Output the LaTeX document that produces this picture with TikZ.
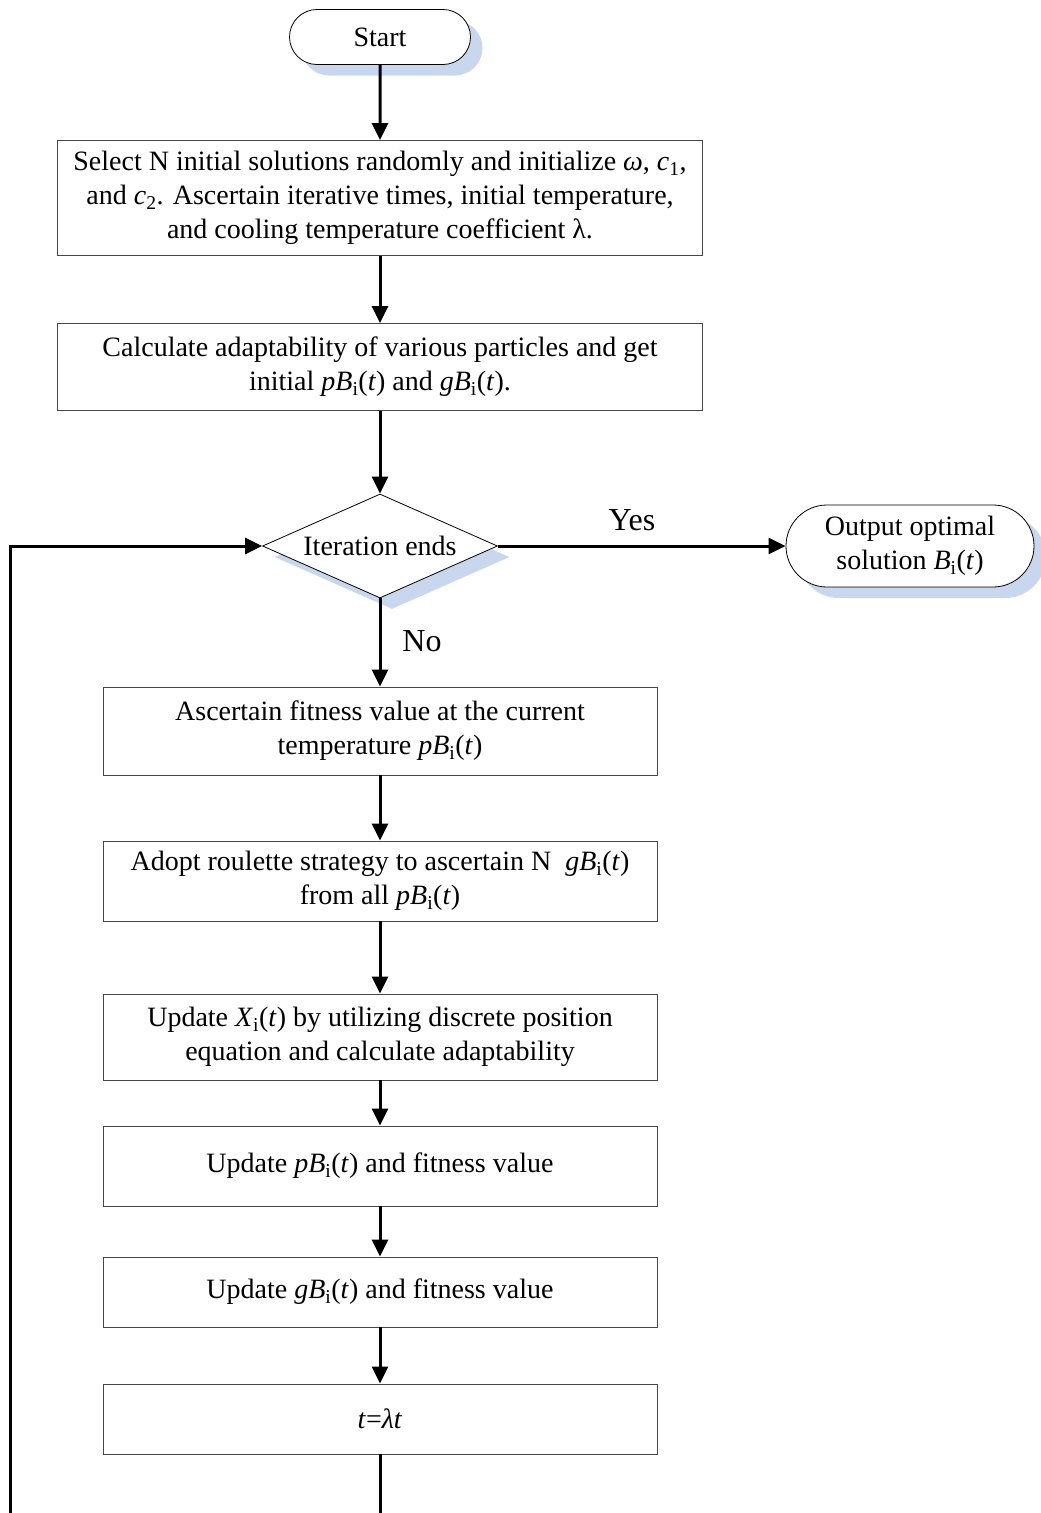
\documentclass[tikz,border=0pt]{standalone}
\usepackage{fontspec}
\setmainfont{Liberation Serif}
\usetikzlibrary{arrows.meta, shapes.geometric, shapes.misc, shadows}

\definecolor{shadowblue}{RGB}{200,214,238}
\definecolor{framegray}{RGB}{70,70,70}

\newcommand{\pB}{\textit{pB}\textsubscript{i}(\textit{t})}
\newcommand{\gB}{\textit{gB}\textsubscript{i}(\textit{t})}

\tikzset{
  box/.style={draw=framegray, line width=0.8pt, fill=white, align=center,
    minimum width=554pt, inner sep=0pt},
  widebox/.style={box, minimum width=645pt},
  term/.style={rounded rectangle, draw=black, line width=0.8pt, fill=white,
    align=center, inner sep=0pt,
    drop shadow={shadow xshift=12pt, shadow yshift=-11pt, fill=shadowblue, opacity=1}},
  decision/.style={diamond, draw=black, line width=0.8pt, fill=white, aspect=2.26,
    inner sep=0pt, minimum width=235pt, minimum height=104pt,
    drop shadow={shadow xshift=12pt, shadow yshift=-11pt, fill=shadowblue, opacity=1}},
  flow/.style={line width=3pt, -{Triangle[length=17pt, width=16pt]}},
  plain/.style={line width=3pt},
  answer/.style={font=\fontsize{32}{36}\selectfont}
}

\begin{document}
\begin{tikzpicture}[x=1pt, y=-1pt, font=\fontsize{28}{34}\selectfont]
                \useasboundingbox (0,0) rectangle (1041,1513);

                % Terminals and decision:
                \node[term, minimum width=181pt, minimum height=55pt] (start) at (380,37) {Start};
                \node[decision] (iter) at (380,546) {Iteration ends};
                \node[term, minimum width=248pt, minimum height=82pt] (output) at (910,546)
                    {Output optimal\\solution \textit{B}\textsubscript{i}(\textit{t})};

                % Process boxes:
                \node[widebox, minimum height=115pt] (init) at (380,198)
                    {Select N initial solutions randomly and initialize \textit{ω}, \textit{c}\textsubscript{1},\\
                     and \textit{c}\textsubscript{2}. Ascertain iterative times, initial temperature,\\
                     and cooling temperature coefficient λ.};
                \node[widebox, minimum height=87pt] (calc) at (380,367)
                    {Calculate adaptability of various particles and get\\initial \pB{} and \gB.};
                \node[box, minimum height=88pt] (fitness) at (380,731)
                    {Ascertain fitness value at the current\\temperature \pB};
                \node[box, minimum height=80pt] (roulette) at (380,881)
                    {Adopt roulette strategy to ascertain N\enspace\gB\\from all \pB};
                \node[box, minimum height=86pt] (position) at (380,1037)
                    {Update \textit{X}\textsubscript{i}(\textit{t}) by utilizing discrete position\\equation and calculate adaptability};
                \node[box, minimum height=80pt] (updp) at (380,1166) {Update \pB{} and fitness value};
                \node[box, minimum height=70pt] (updg) at (380,1292) {Update \gB{} and fitness value};
                \node[box, minimum height=70pt] (cool) at (380,1419) {\textit{t}=\textit{λt}};

                % Free ends at the bottom edge:
                \coordinate (loopend) at (10,1513);
                \coordinate (downend) at (380,1513);

                % Connectors:
                \draw[flow] (start) -- (init);
                \draw[flow] (init) -- (calc);
                \draw[flow] (calc) -- (iter);
                \draw[flow] (iter) -- (output);
                \draw[flow] (iter) -- (fitness);
                \draw[flow] (fitness) -- (roulette);
                \draw[flow] (roulette) -- (position);
                \draw[flow] (position) -- (updp);
                \draw[flow] (updp) -- (updg);
                \draw[flow] (updg) -- (cool);
                \draw[plain] (cool) -- (downend);
                \draw[flow] (loopend) |- (iter.west);

                % Branch labels:
                \node[answer] (yes) at (632,520) {Yes};
                \node[answer] (no) at (422,641) {No};
            \end{tikzpicture}
\end{document}
